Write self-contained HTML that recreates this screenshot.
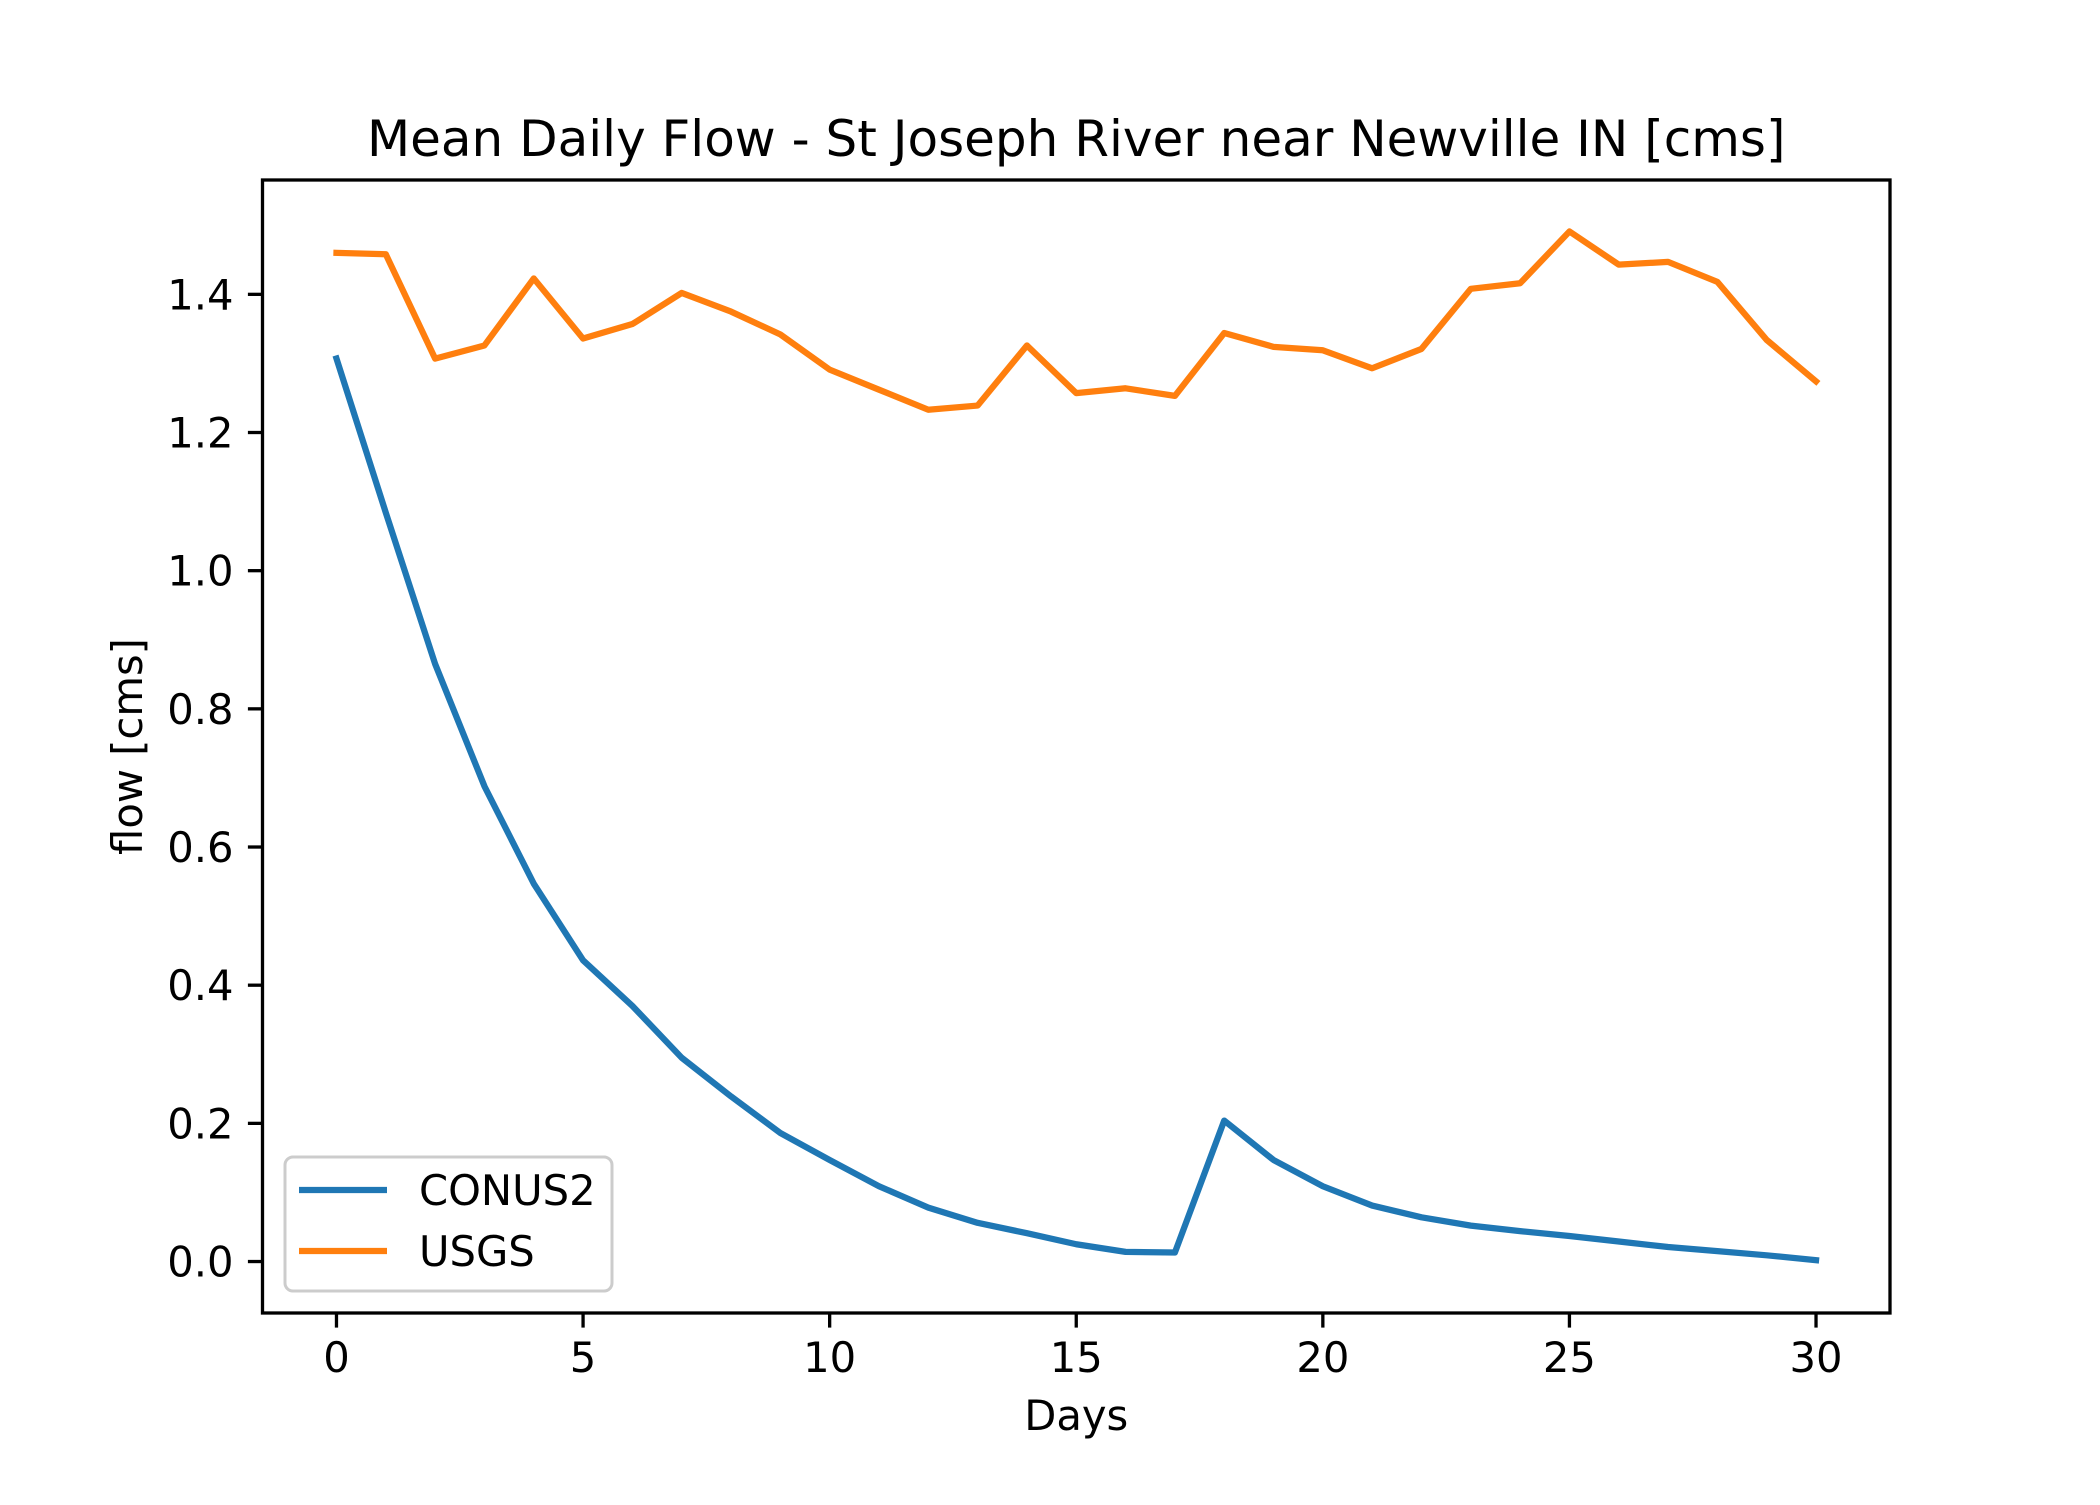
<!DOCTYPE html>
<html><head><meta charset="utf-8"><style>body{margin:0;background:#fff}svg text{font-family:"DejaVu Sans","Liberation Sans",sans-serif}</style></head>
<body>
<svg id="chart" width="2100" height="1500" xmlns="http://www.w3.org/2000/svg">
<rect width="2100" height="1500" fill="#fff"/>
<g id="plot"></g>
</svg>
<script>
const days=[0,1,2,3,4,5,6,7,8,9,10,11,12,13,14,15,16,17,18,19,20,21,22,23,24,25,26,27,28,29,30];
const conus2=[1.307,1.084,0.865,0.688,0.547,0.436,0.370,0.295,0.239,0.186,0.147,0.109,0.078,0.056,0.041,0.025,0.014,0.013,0.204,0.147,0.109,0.081,0.064,0.052,0.044,0.037,0.029,0.021,0.015,0.009,0.002];
const usgs=[1.46,1.458,1.307,1.326,1.423,1.336,1.357,1.402,1.375,1.342,1.291,1.262,1.233,1.239,1.326,1.257,1.264,1.253,1.344,1.324,1.319,1.293,1.321,1.408,1.416,1.491,1.443,1.447,1.418,1.334,1.274];
const xTicks=[0,5,10,15,20,25,30];
const yTicks=[0,0.2,0.4,0.6,0.8,1.0,1.2,1.4];
const L=262.5,R=1890,T=180,B=1313;
const xMin=-1.5,xMax=31.5,yMin=-0.0745,yMax=1.5655;
const X=v=>L+(v-xMin)/(xMax-xMin)*(R-L);
const Y=v=>B-(v-yMin)/(yMax-yMin)*(B-T);
const g=document.getElementById('plot');
const NS='http://www.w3.org/2000/svg';
function mk(t,a,txt){const e=document.createElementNS(NS,t);for(const k in a)e.setAttribute(k,a[k]);if(txt!==undefined)e.textContent=txt;g.appendChild(e);return e;}
function line(vals,color,name){const e=mk('polyline',{points:vals.map((v,i)=>X(days[i])+','+Y(v)).join(' '),fill:'none',stroke:color,'stroke-width':6.25,'stroke-linejoin':'round','stroke-linecap':'square'});

}
line(conus2,'#1f77b4','conus2-line');
line(usgs,'#ff7f0e','usgs-line');
const fr=mk('rect',{x:L,y:T,width:R-L,height:B-T,fill:'none',stroke:'#000','stroke-width':3.3});


xTicks.forEach(v=>{mk('line',{x1:X(v),x2:X(v),y1:B,y2:B+14.6,stroke:'#000','stroke-width':3.3});
const t=mk('text',{x:X(v),y:B+59,'font-size':41.7,'text-anchor':'middle'},String(v));

});
yTicks.forEach(v=>{mk('line',{x1:L-14.6,x2:L,y1:Y(v),y2:Y(v),stroke:'#000','stroke-width':3.3});
const t=mk('text',{x:L-29,y:Y(v)+15,'font-size':41.7,'text-anchor':'end'},v.toFixed(1));

});
let t=mk('text',{x:(L+R)/2,y:156,'font-size':50,'text-anchor':'middle'},'Mean Daily Flow - St Joseph River near Newville IN [cms]');

t=mk('text',{x:(L+R)/2,y:1430,'font-size':41.7,'text-anchor':'middle'},'Days');

t=mk('text',{x:0,y:0,'font-size':41.7,'text-anchor':'middle',transform:'translate(142,'+((T+B)/2)+') rotate(-90)'},'flow [cms]');

const lg=mk('rect',{x:285,y:1157,width:327,height:134,rx:8,fill:'#fff','fill-opacity':0.8,stroke:'#ccc','stroke-width':3});

[['CONUS2','#1f77b4',1190],['USGS','#ff7f0e',1251]].forEach(([n,c,y])=>{
mk('line',{x1:299,x2:387,y1:y,y2:y,stroke:c,'stroke-width':6.25});
const e=mk('text',{x:419,y:y+15,'font-size':41.7},n);

});
</script>
</body></html>
